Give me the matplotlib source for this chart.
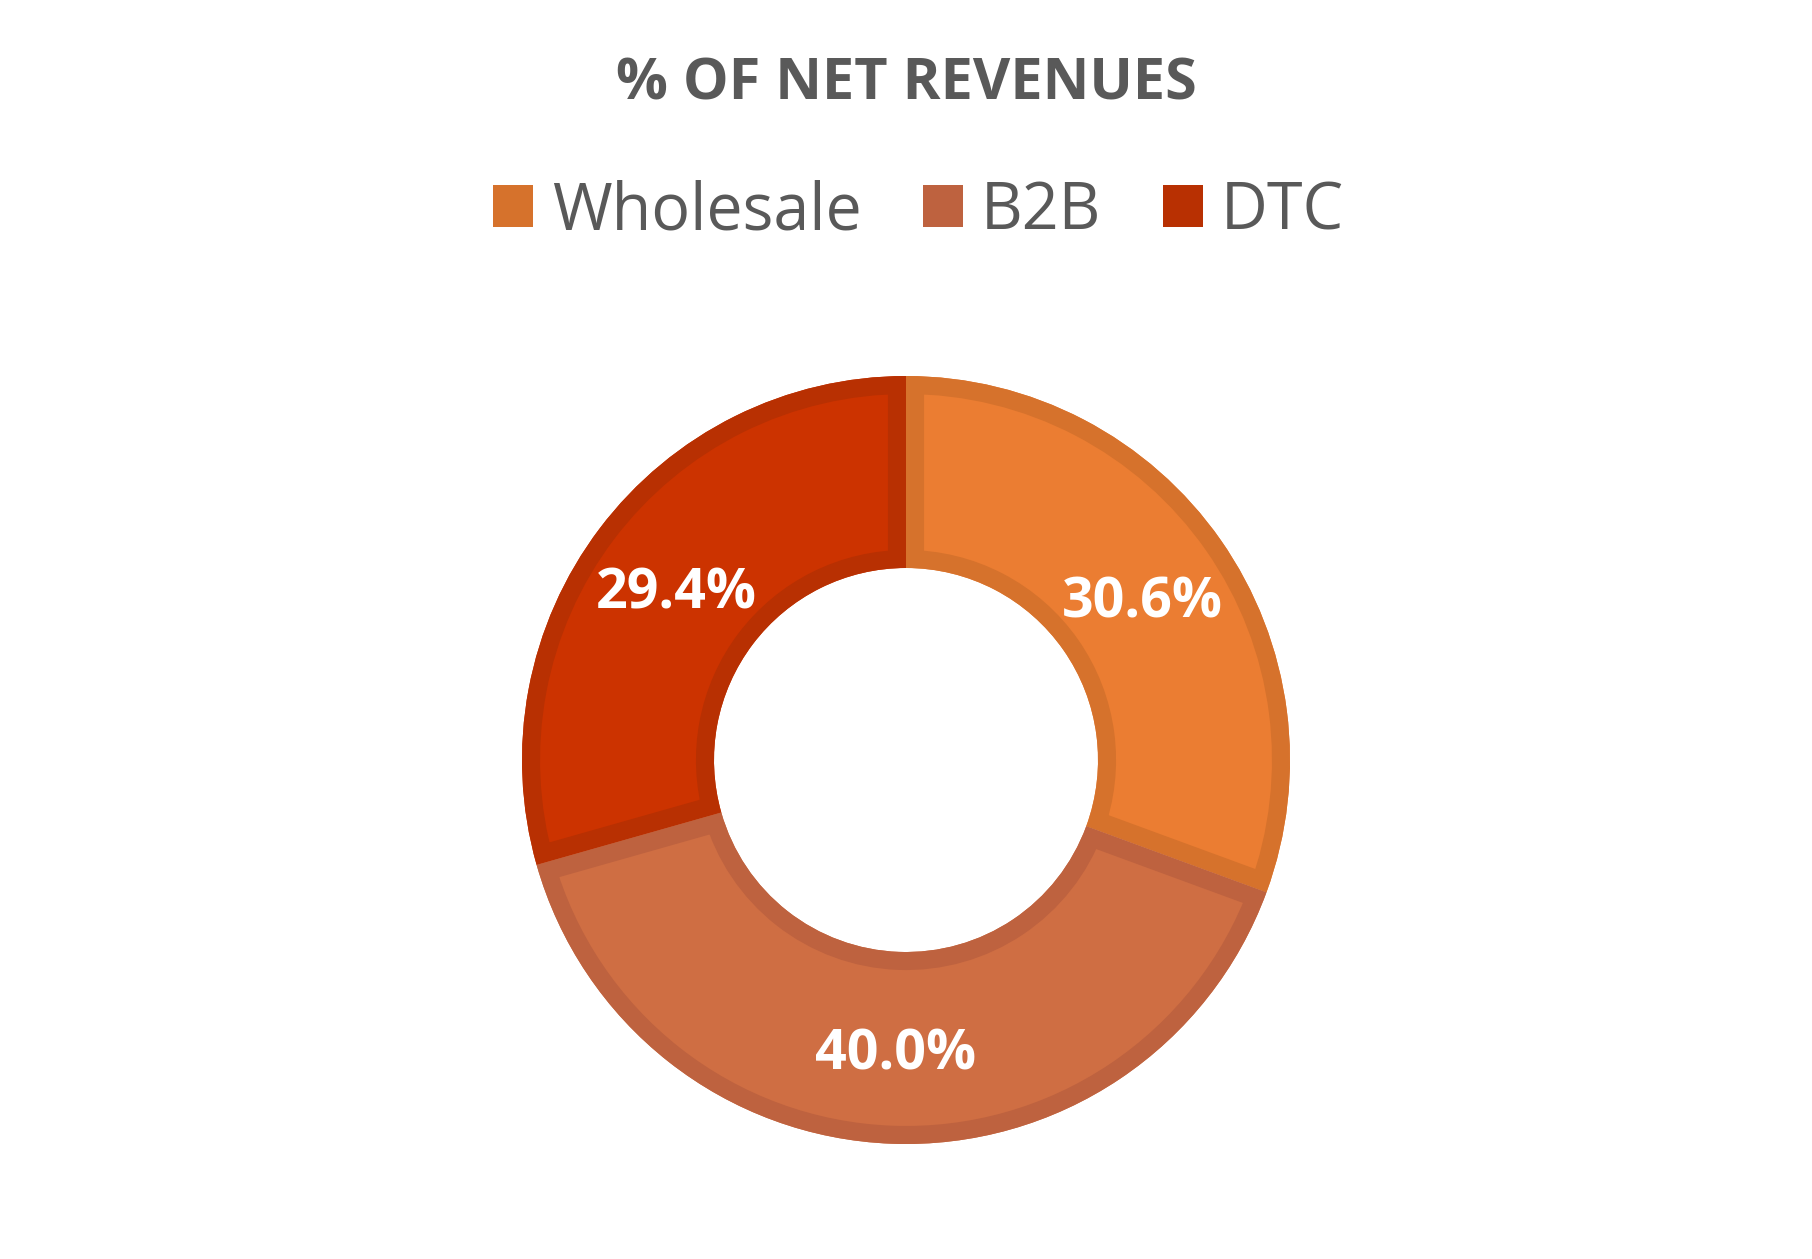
"""Donut chart: % of net revenues by channel."""

import matplotlib

matplotlib.use("Agg")
import matplotlib.pyplot as plt
from matplotlib.patches import Wedge

categories = ["Wholesale", "B2B", "DTC"]
shares = [30.6, 40.0, 29.4]
fill_colors = ["#EB7D32", "#CF6E43", "#CC3300"]
edge_colors = ["#D6722C", "#BE623F", "#B83002"]
title = "% OF NET REVENUES"

W, H, DPI = 1812, 1259, 100
fig = plt.figure(figsize=(W / DPI, H / DPI), dpi=DPI)
fig.patch.set_facecolor("white")

# donut centre (906, 760) px, outer radius 384 px
r_px = 384
cx, cy = 906, H - 760
ax = fig.add_axes([(cx - r_px) / W, (cy - r_px) / H, 2 * r_px / W, 2 * r_px / H])
ax.set_aspect("equal")

wedges, _, autotexts = ax.pie(
    shares,
    colors=fill_colors,
    startangle=90,
    counterclock=False,
    radius=1.0,
    autopct="%1.1f%%",
    pctdistance=0.75,
    wedgeprops=dict(width=0.5, linewidth=0),
    textprops=dict(color="white", fontsize=40, fontweight="bold", family="Open Sans"),
)
for t in autotexts:
    x, y = t.get_position()
    t.set_position((x, y - 0.02))

# inner border: stroke each wedge and clip to itself
for w, ec in zip(wedges, edge_colors):
    border = Wedge(
        w.center, w.r, w.theta1, w.theta2, width=w.width,
        facecolor="none", edgecolor=ec, linewidth=26,
    )
    ax.add_patch(border)
    border.set_clip_path(w)

ax.set_xlim(-1, 1)
ax.set_ylim(-1, 1)
ax.axis("off")

fig.text(0.5, 1 - 84 / H, title, ha="center", va="center",
         fontsize=41.5, fontweight="bold", color="#595959", family="Open Sans")

handles = [plt.Rectangle((0, 0), 1, 1, facecolor=ec, edgecolor="none") for ec in edge_colors]
fig.legend(
    handles, categories,
    loc="center", bbox_to_anchor=(0.507, 1 - 212 / H), ncol=3, frameon=False,
    prop=dict(family="Open Sans", size=46.5), labelcolor="#595959",
    handlelength=0.62, handleheight=0.62, handletextpad=0.28, columnspacing=0.95,
)

fig.savefig("out.png", dpi=DPI, facecolor="white")
